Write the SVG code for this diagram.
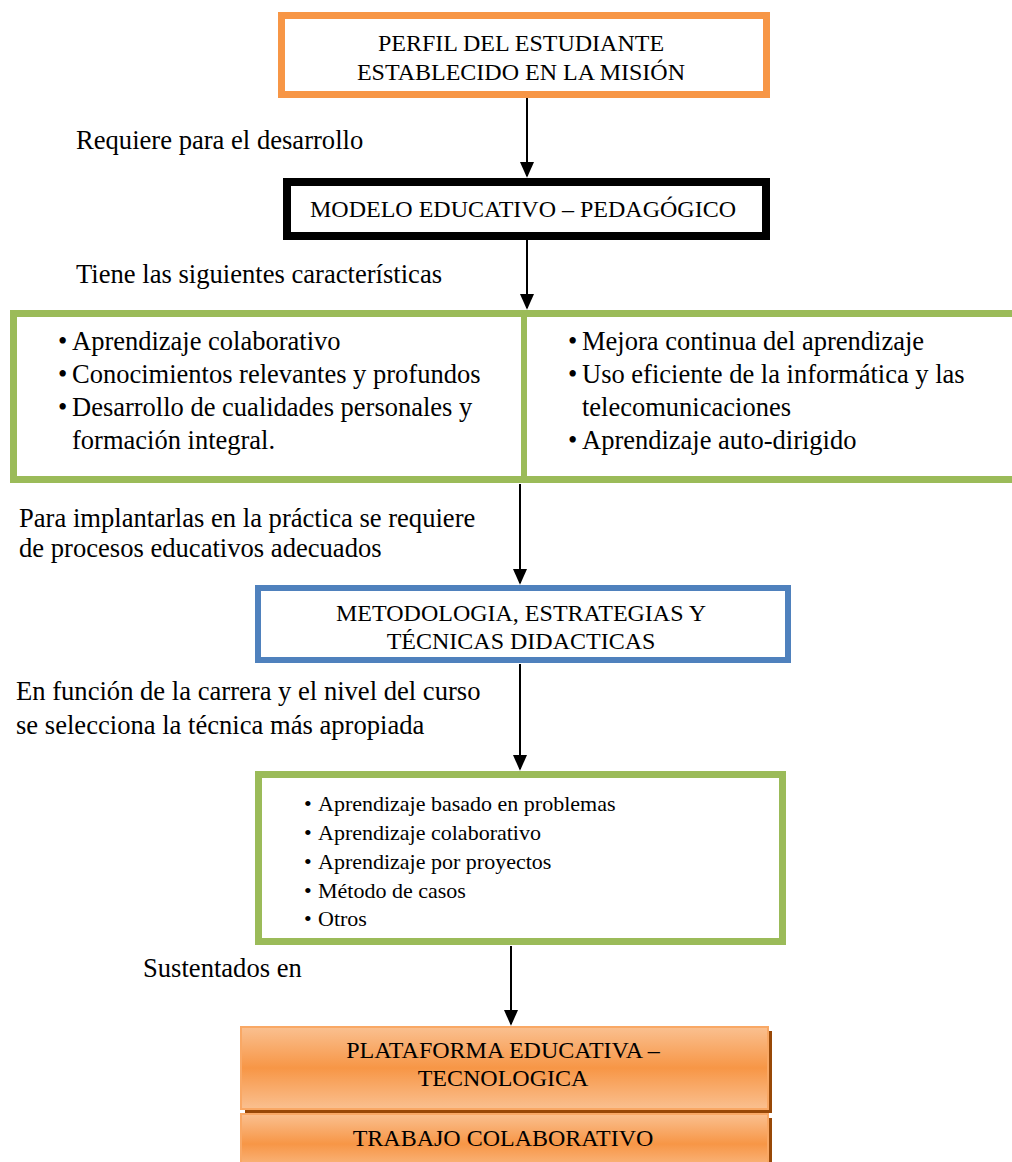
<svg xmlns="http://www.w3.org/2000/svg" width="1012" height="1162" viewBox="0 0 1012 1162">
<style>
text{font-family:"Liberation Serif","Times New Roman",serif;fill:#000}
.lbl{font-size:26.6px}
.box{font-size:24px;text-anchor:middle}
.bl{font-size:26.5px}
.bs{font-size:22px}
.conn line{stroke:#000;stroke-width:2}
</style>
<defs>
<marker id="ah2" markerWidth="16" markerHeight="18" refX="16" refY="8" orient="auto" markerUnits="userSpaceOnUse" viewBox="0 0 18 16">
<path d="M0,0 L18,8 L0,16 Z" fill="#000"/>
</marker>
<linearGradient id="og" x1="0" y1="0" x2="0" y2="1">
<stop offset="0" stop-color="#FAC090"/>
<stop offset="0.5" stop-color="#F79646"/>
<stop offset="1" stop-color="#FAC090"/>
</linearGradient>
</defs>
<rect width="1012" height="1162" fill="#fff"/>

<g id="connectors" class="conn">
<line x1="527" y1="98" x2="527" y2="176" marker-end="url(#ah2)"/>
<line x1="527" y1="240" x2="527" y2="308" marker-end="url(#ah2)"/>
<line x1="520" y1="484" x2="520" y2="583" marker-end="url(#ah2)"/>
<line x1="520" y1="664" x2="520" y2="769" marker-end="url(#ah2)"/>
<line x1="511" y1="946" x2="511" y2="1024" marker-end="url(#ah2)"/>
</g>

<g id="lbl-requiere"><text class="lbl" x="76" y="149">Requiere para el desarrollo</text></g>
<g id="lbl-tiene"><text class="lbl" x="76" y="283">Tiene las siguientes características</text></g>
<g id="lbl-para"><text class="lbl" x="19" y="527">Para implantarlas en la práctica se requiere</text><text class="lbl" x="19" y="557">de procesos educativos adecuados</text></g>
<g id="lbl-funcion"><text class="lbl" x="16" y="700">En función de la carrera y el nivel del curso</text><text class="lbl" x="16" y="734">se selecciona la técnica más apropiada</text></g>
<g id="lbl-sustentados"><text class="lbl" x="143" y="977">Sustentados en</text></g>

<g id="perfil">
<rect x="281.5" y="15.5" width="485" height="79" fill="#fff" stroke="#F79646" stroke-width="7"/>
<text class="box" x="521" y="51">PERFIL DEL ESTUDIANTE</text>
<text class="box" x="521" y="80">ESTABLECIDO EN LA MISIÓN</text>
</g>

<g id="modelo">
<rect x="287" y="182" width="479" height="54" fill="#fff" stroke="#000" stroke-width="8"/>
<text class="box" x="523" y="217">MODELO EDUCATIVO – PEDAGÓGICO</text>
</g>

<g id="caracteristicas">
<rect x="13.5" y="313.5" width="1010" height="166" fill="#fff" stroke="#9BBB59" stroke-width="7"/>
<line x1="524" y1="313" x2="524" y2="480" stroke="#9BBB59" stroke-width="6"/>
<text class="bl" x="58" y="350">•</text><text class="bl" x="72" y="350">Aprendizaje colaborativo</text>
<text class="bl" x="58" y="383">•</text><text class="bl" x="72" y="383">Conocimientos relevantes y profundos</text>
<text class="bl" x="58" y="416">•</text><text class="bl" x="72" y="416">Desarrollo de cualidades personales y</text>
<text class="bl" x="72" y="449">formación integral.</text>
<text class="bl" x="568" y="350">•</text><text class="bl" x="582" y="350">Mejora continua del aprendizaje</text>
<text class="bl" x="568" y="383">•</text><text class="bl" x="582" y="383">Uso eficiente de la informática y las</text>
<text class="bl" x="582" y="416">telecomunicaciones</text>
<text class="bl" x="568" y="449">•</text><text class="bl" x="582" y="449">Aprendizaje auto-dirigido</text>
</g>

<g id="metodologia">
<rect x="258" y="588" width="530" height="72" fill="#fff" stroke="#4F81BD" stroke-width="6"/>
<text class="box" x="521" y="621">METODOLOGIA, ESTRATEGIAS Y</text>
<text class="box" x="521" y="649">TÉCNICAS DIDACTICAS</text>
</g>

<g id="tecnicas">
<rect x="258.5" y="774.5" width="524" height="167" fill="#fff" stroke="#9BBB59" stroke-width="7"/>
<text class="bs" x="304" y="811">•</text><text class="bs" x="318" y="811">Aprendizaje basado en problemas</text>
<text class="bs" x="304" y="840">•</text><text class="bs" x="318" y="840">Aprendizaje colaborativo</text>
<text class="bs" x="304" y="869">•</text><text class="bs" x="318" y="869">Aprendizaje por proyectos</text>
<text class="bs" x="304" y="898">•</text><text class="bs" x="318" y="898">Método de casos</text>
<text class="bs" x="304" y="926">•</text><text class="bs" x="318" y="926">Otros</text>
</g>

<g id="plataforma">
<rect x="245" y="1031" width="527" height="82" fill="#984807"/>
<rect x="241" y="1027" width="527" height="82" fill="url(#og)" stroke="#F9A865" stroke-width="2"/>
<text class="box" x="503" y="1058">PLATAFORMA EDUCATIVA –</text>
<text class="box" x="503" y="1086">TECNOLOGICA</text>
</g>

<g id="trabajo">
<rect x="245" y="1118" width="527" height="60" fill="#984807"/>
<rect x="241" y="1114" width="527" height="60" fill="url(#og)" stroke="#F9A865" stroke-width="2"/>
<text class="box" x="503" y="1146">TRABAJO COLABORATIVO</text>
</g>
</svg>
